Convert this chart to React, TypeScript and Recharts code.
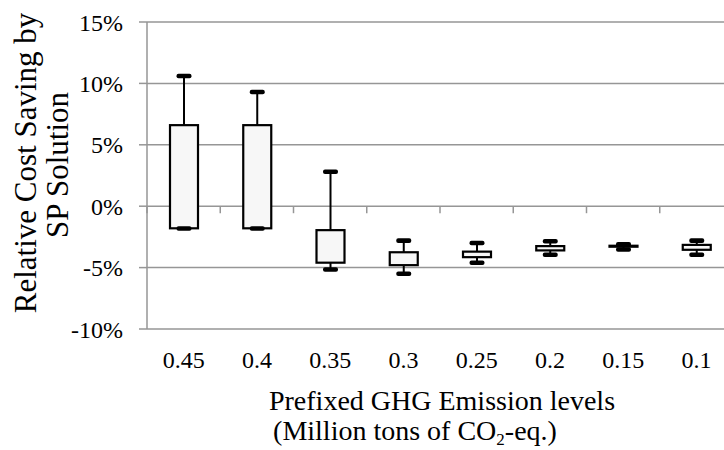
import { Bar, CartesianGrid, ComposedChart, ReferenceLine, XAxis, YAxis } from "recharts";

const levels = ["0.45", "0.4", "0.35", "0.3", "0.25", "0.2", "0.15", "0.1"];
const maxVals = [10.6, 9.3, 2.8, -2.8, -3.0, -2.85, -3.1, -2.8];
const q3Vals = [6.6, 6.6, -1.95, -3.75, -3.7, -3.25, -3.22, -3.15];
const q1Vals = [-1.8, -1.8, -4.6, -4.8, -4.15, -3.6, -3.3, -3.55];
const minVals = [-1.82, -1.82, -5.15, -5.5, -4.6, -3.95, -3.52, -3.95];
const yTicks = [-10, -5, 0, 5, 10, 15];

const data = levels.map((level, i) => ({
  level,
  max: maxVals[i],
  q3: q3Vals[i],
  q1: q1Vals[i],
  min: minVals[i],
  range: [minVals[i], maxVals[i]],
}));

const FONT = "Liberation Serif, Times New Roman, DejaVu Serif, serif";
const GRID = "#969696";

function BoxShape(props: any) {
  const { x, y, width, height, payload } = props;
  const { max, q3, q1, min } = payload;
  const top = Math.min(y, y + height);
  const h = Math.abs(height);
  const span = max - min || 1;
  const py = (v: number) => top + ((max - v) / span) * h;
  const cx = x + width / 2;
  const capW = width / 2;
  const yMax = py(max);
  const yQ3 = py(q3);
  const yQ1 = py(q1);
  const yMin = py(min);
  return (
    <g>
      <line x1={cx} x2={cx} y1={yMax} y2={yQ3} stroke="#000" strokeWidth={2} />
      <line x1={cx} x2={cx} y1={yQ1} y2={yMin} stroke="#000" strokeWidth={2} />
      <rect x={x + 1} y={yQ3} width={width - 2} height={Math.max(yQ1 - yQ3, 0.5)} fill="#f7f7f7" stroke="#000" strokeWidth={2.2} />
      <rect x={cx - capW / 2} y={yMax - 2.3} width={capW} height={4.6} rx={2} fill="#000" />
      <rect x={cx - capW / 2} y={yMin - 2.3} width={capW} height={4.6} rx={2} fill="#000" />
    </g>
  );
}

// small tick marks hanging below the 0% line at category boundaries
function ZeroTicks(props: any) {
  const { x1, x2, y1 } = props;
  const n = levels.length;
  const step = (x2 - x1) / n;
  return (
    <g>
      {Array.from({ length: n + 1 }, (_, i) => (
        <line key={i} x1={x1 + i * step} x2={x1 + i * step} y1={y1} y2={y1 + 7} stroke={GRID} strokeWidth={1.5} />
      ))}
    </g>
  );
}

function XTitle() {
  return (
    <g style={{ fontFamily: FONT }} fill="#000">
      <text x={442} y={410} fontSize={28} textAnchor="middle" style={{ fontFamily: FONT }}>
        Prefixed GHG Emission levels
      </text>
      <text x={415} y={440} fontSize={28} textAnchor="middle" style={{ fontFamily: FONT }}>
        (Million tons of CO<tspan fontSize={17} dy={5}>2</tspan>
        <tspan dy={-5}>-eq.)</tspan>
      </text>
    </g>
  );
}

function YTitle() {
  return (
    <g fill="#000" fontSize={31} style={{ fontFamily: FONT }}>
      <text x={36} y={163} textAnchor="middle" transform="rotate(-90 36 163)" style={{ fontFamily: FONT }}>
        Relative Cost Saving by
      </text>
      <text x={68} y={165} textAnchor="middle" transform="rotate(-90 68 165)" style={{ fontFamily: FONT }}>
        SP Solution
      </text>
    </g>
  );
}

const tickStyle = { fill: "#000", fontSize: 24, fontFamily: FONT, style: { fontFamily: FONT } };

export default function App() {
  return (
    <div style={{ position: "absolute", left: 0, top: 0, width: 724, height: 450, overflow: "hidden", background: "#fff", fontFamily: FONT }}>
      <ComposedChart width={740} height={450} data={data} margin={{ top: 22, right: 7, bottom: 0, left: 0 }} style={{ fontFamily: FONT }}>
        <CartesianGrid vertical={false} stroke={GRID} strokeWidth={1.5} />
        <XAxis
          dataKey="level"
          interval={0}
          tickLine={false}
          axisLine={false}
          tickSize={0}
          tickMargin={22}
          height={121}
          tick={tickStyle}
          label={<XTitle />}
        />
        <YAxis
          domain={[-10, 15]}
          ticks={yTicks}
          allowDataOverflow
          width={147}
          tickSize={8}
          tickMargin={16}
          tickFormatter={(v: number) => `${v}%`}
          axisLine={{ stroke: GRID, strokeWidth: 1.5 }}
          tickLine={{ stroke: GRID, strokeWidth: 1.5 }}
          tick={tickStyle}
          label={<YTitle />}
        />
        <ReferenceLine y={0} stroke={GRID} shape={<ZeroTicks />} />
        <Bar dataKey="range" barSize={30} shape={<BoxShape />} isAnimationActive={false} />
      </ComposedChart>
    </div>
  );
}
